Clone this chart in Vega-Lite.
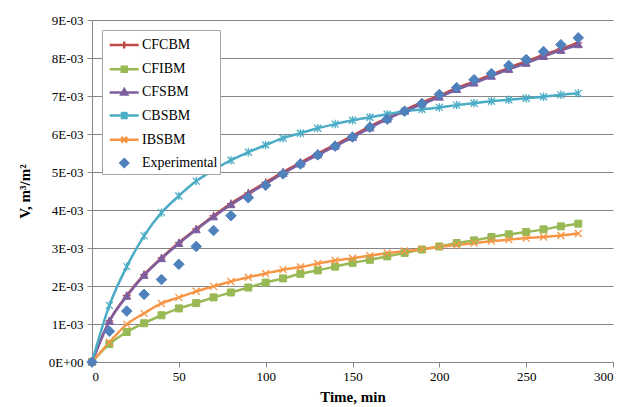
{
"$schema": "https://vega.github.io/schema/vega-lite/v6.json",
"width": 521, "height": 342,
"autosize": "none",
"padding": {"left": 92, "top": 20, "right": 11, "bottom": 45},
"background": "white",
"config": {"view": {"stroke": null}, "font": "Times New Roman",
  "axis": {"labelFont": "Times New Roman", "titleFont": "Times New Roman"},
  "legend": {"labelFont": "Times New Roman"}},
"data": {"values": [
{"t":0,"s":"CFCBM","v":0},{"t":10,"s":"CFCBM","v":0.00108},{"t":20,"s":"CFCBM","v":0.00175},{"t":30,"s":"CFCBM","v":0.0023},{"t":40,"s":"CFCBM","v":0.00274},{"t":50,"s":"CFCBM","v":0.00314},{"t":60,"s":"CFCBM","v":0.0035},{"t":70,"s":"CFCBM","v":0.00385},{"t":80,"s":"CFCBM","v":0.00417},{"t":90,"s":"CFCBM","v":0.00445},{"t":100,"s":"CFCBM","v":0.00473},{"t":110,"s":"CFCBM","v":0.005},{"t":120,"s":"CFCBM","v":0.00525},{"t":130,"s":"CFCBM","v":0.00549},{"t":140,"s":"CFCBM","v":0.00572},{"t":150,"s":"CFCBM","v":0.00595},{"t":160,"s":"CFCBM","v":0.0062},{"t":170,"s":"CFCBM","v":0.00642},{"t":180,"s":"CFCBM","v":0.00663},{"t":190,"s":"CFCBM","v":0.00683},{"t":200,"s":"CFCBM","v":0.00701},{"t":210,"s":"CFCBM","v":0.00721},{"t":220,"s":"CFCBM","v":0.00738},{"t":230,"s":"CFCBM","v":0.00756},{"t":240,"s":"CFCBM","v":0.00774},{"t":250,"s":"CFCBM","v":0.00791},{"t":260,"s":"CFCBM","v":0.00808},{"t":270,"s":"CFCBM","v":0.00824},{"t":280,"s":"CFCBM","v":0.0084},
{"t":0,"s":"CFIBM","v":0},{"t":10,"s":"CFIBM","v":0.00047},{"t":20,"s":"CFIBM","v":0.00079},{"t":30,"s":"CFIBM","v":0.00102},{"t":40,"s":"CFIBM","v":0.00123},{"t":50,"s":"CFIBM","v":0.00141},{"t":60,"s":"CFIBM","v":0.00155},{"t":70,"s":"CFIBM","v":0.0017},{"t":80,"s":"CFIBM","v":0.00183},{"t":90,"s":"CFIBM","v":0.00196},{"t":100,"s":"CFIBM","v":0.00209},{"t":110,"s":"CFIBM","v":0.0022},{"t":120,"s":"CFIBM","v":0.00232},{"t":130,"s":"CFIBM","v":0.00241},{"t":140,"s":"CFIBM","v":0.00251},{"t":150,"s":"CFIBM","v":0.00261},{"t":160,"s":"CFIBM","v":0.00269},{"t":170,"s":"CFIBM","v":0.00278},{"t":180,"s":"CFIBM","v":0.00287},{"t":190,"s":"CFIBM","v":0.00296},{"t":200,"s":"CFIBM","v":0.00304},{"t":210,"s":"CFIBM","v":0.00313},{"t":220,"s":"CFIBM","v":0.0032},{"t":230,"s":"CFIBM","v":0.00329},{"t":240,"s":"CFIBM","v":0.00336},{"t":250,"s":"CFIBM","v":0.00342},{"t":260,"s":"CFIBM","v":0.00349},{"t":270,"s":"CFIBM","v":0.00357},{"t":280,"s":"CFIBM","v":0.00364},
{"t":0,"s":"CFSBM","v":0},{"t":10,"s":"CFSBM","v":0.00107},{"t":20,"s":"CFSBM","v":0.00173},{"t":30,"s":"CFSBM","v":0.00228},{"t":40,"s":"CFSBM","v":0.00272},{"t":50,"s":"CFSBM","v":0.00312},{"t":60,"s":"CFSBM","v":0.00348},{"t":70,"s":"CFSBM","v":0.00382},{"t":80,"s":"CFSBM","v":0.00414},{"t":90,"s":"CFSBM","v":0.00442},{"t":100,"s":"CFSBM","v":0.00469},{"t":110,"s":"CFSBM","v":0.00496},{"t":120,"s":"CFSBM","v":0.00521},{"t":130,"s":"CFSBM","v":0.00545},{"t":140,"s":"CFSBM","v":0.00568},{"t":150,"s":"CFSBM","v":0.00591},{"t":160,"s":"CFSBM","v":0.00616},{"t":170,"s":"CFSBM","v":0.00639},{"t":180,"s":"CFSBM","v":0.0066},{"t":190,"s":"CFSBM","v":0.00679},{"t":200,"s":"CFSBM","v":0.00697},{"t":210,"s":"CFSBM","v":0.00717},{"t":220,"s":"CFSBM","v":0.00734},{"t":230,"s":"CFSBM","v":0.00752},{"t":240,"s":"CFSBM","v":0.0077},{"t":250,"s":"CFSBM","v":0.00786},{"t":260,"s":"CFSBM","v":0.00804},{"t":270,"s":"CFSBM","v":0.0082},{"t":280,"s":"CFSBM","v":0.00835},
{"t":0,"s":"CBSBM","v":0},{"t":10,"s":"CBSBM","v":0.00149},{"t":20,"s":"CBSBM","v":0.00251},{"t":30,"s":"CBSBM","v":0.00332},{"t":40,"s":"CBSBM","v":0.00393},{"t":50,"s":"CBSBM","v":0.00437},{"t":60,"s":"CBSBM","v":0.00476},{"t":70,"s":"CBSBM","v":0.00505},{"t":80,"s":"CBSBM","v":0.00531},{"t":90,"s":"CBSBM","v":0.00552},{"t":100,"s":"CBSBM","v":0.00571},{"t":110,"s":"CBSBM","v":0.00589},{"t":120,"s":"CBSBM","v":0.00602},{"t":130,"s":"CBSBM","v":0.00615},{"t":140,"s":"CBSBM","v":0.00626},{"t":150,"s":"CBSBM","v":0.00636},{"t":160,"s":"CBSBM","v":0.00644},{"t":170,"s":"CBSBM","v":0.00652},{"t":180,"s":"CBSBM","v":0.0066},{"t":190,"s":"CBSBM","v":0.00665},{"t":200,"s":"CBSBM","v":0.0067},{"t":210,"s":"CBSBM","v":0.00676},{"t":220,"s":"CBSBM","v":0.00681},{"t":230,"s":"CBSBM","v":0.00686},{"t":240,"s":"CBSBM","v":0.0069},{"t":250,"s":"CBSBM","v":0.00694},{"t":260,"s":"CBSBM","v":0.00698},{"t":270,"s":"CBSBM","v":0.00703},{"t":280,"s":"CBSBM","v":0.00707},
{"t":0,"s":"IBSBM","v":0},{"t":10,"s":"IBSBM","v":0.00052},{"t":20,"s":"IBSBM","v":0.00099},{"t":30,"s":"IBSBM","v":0.00128},{"t":40,"s":"IBSBM","v":0.00154},{"t":50,"s":"IBSBM","v":0.0017},{"t":60,"s":"IBSBM","v":0.00186},{"t":70,"s":"IBSBM","v":0.00199},{"t":80,"s":"IBSBM","v":0.00212},{"t":90,"s":"IBSBM","v":0.00223},{"t":100,"s":"IBSBM","v":0.00233},{"t":110,"s":"IBSBM","v":0.00243},{"t":120,"s":"IBSBM","v":0.0025},{"t":130,"s":"IBSBM","v":0.00259},{"t":140,"s":"IBSBM","v":0.00267},{"t":150,"s":"IBSBM","v":0.00273},{"t":160,"s":"IBSBM","v":0.0028},{"t":170,"s":"IBSBM","v":0.00287},{"t":180,"s":"IBSBM","v":0.00292},{"t":190,"s":"IBSBM","v":0.00297},{"t":200,"s":"IBSBM","v":0.00303},{"t":210,"s":"IBSBM","v":0.00308},{"t":220,"s":"IBSBM","v":0.00313},{"t":230,"s":"IBSBM","v":0.00318},{"t":240,"s":"IBSBM","v":0.00322},{"t":250,"s":"IBSBM","v":0.00326},{"t":260,"s":"IBSBM","v":0.00329},{"t":270,"s":"IBSBM","v":0.00333},{"t":280,"s":"IBSBM","v":0.00338},
{"t":0,"s":"Experimental","v":0},{"t":10,"s":"Experimental","v":0.00081},{"t":20,"s":"Experimental","v":0.00134},{"t":30,"s":"Experimental","v":0.00178},{"t":40,"s":"Experimental","v":0.00217},{"t":50,"s":"Experimental","v":0.00257},{"t":60,"s":"Experimental","v":0.00304},{"t":70,"s":"Experimental","v":0.00346},{"t":80,"s":"Experimental","v":0.00385},{"t":90,"s":"Experimental","v":0.00432},{"t":100,"s":"Experimental","v":0.00465},{"t":110,"s":"Experimental","v":0.00495},{"t":120,"s":"Experimental","v":0.00521},{"t":130,"s":"Experimental","v":0.00545},{"t":140,"s":"Experimental","v":0.00568},{"t":150,"s":"Experimental","v":0.00592},{"t":160,"s":"Experimental","v":0.00618},{"t":170,"s":"Experimental","v":0.00639},{"t":180,"s":"Experimental","v":0.0066},{"t":190,"s":"Experimental","v":0.0068},{"t":200,"s":"Experimental","v":0.00704},{"t":210,"s":"Experimental","v":0.00722},{"t":220,"s":"Experimental","v":0.00743},{"t":230,"s":"Experimental","v":0.00759},{"t":240,"s":"Experimental","v":0.0078},{"t":250,"s":"Experimental","v":0.00796},{"t":260,"s":"Experimental","v":0.00817},{"t":270,"s":"Experimental","v":0.00835},{"t":280,"s":"Experimental","v":0.00853}
]},
"encoding": {
  "x": {"field": "t", "type": "quantitative", "scale": {"domain": [0, 300], "nice": false},
    "axis": {"title": "Time, min", "values": [0,50,100,150,200,250,300], "grid": false, "tickSize": 5, "tickColor": "#868686", "domainColor": "#868686", "labelFont": "Times New Roman", "labelFontSize": 13, "labelColor": "#000000", "labelPadding": 3, "titleFont": "Times New Roman", "titleFontSize": 15, "titleFontWeight": "bold", "titleColor": "#000000", "titlePadding": 6}},
  "y": {"field": "v", "type": "quantitative", "scale": {"domain": [0, 0.009], "nice": false},
    "axis": {"title": "V, m³/m²", "values": [0,0.001,0.002,0.003,0.004,0.005,0.006,0.007,0.008,0.009], "labelExpr": "datum.value == 0 ? '0E+00' : format(datum.value*1000, '.0f') + 'E-03'", "grid": true, "gridColor": "#868686", "gridWidth": 1, "tickSize": 5, "tickColor": "#868686", "domainColor": "#868686", "labelFont": "Times New Roman", "labelFontSize": 13, "labelColor": "#000000", "labelPadding": 4, "titleFont": "Times New Roman", "titleFontSize": 15, "titleFontWeight": "bold", "titleColor": "#000000", "titlePadding": 16}}
},
"layer": [
  {
    "transform": [{"filter": "datum.s !== 'Experimental'"}],
    "mark": {"type": "line", "strokeWidth": 2.5, "interpolate": "monotone"},
    "encoding": {
      "color": {"field": "s", "type": "nominal",
        "scale": {"domain": ["CFCBM","CFIBM","CFSBM","CBSBM","IBSBM","Experimental"], "range": ["#BE4B48","#98B954","#7D5FA0","#4BACC6","#F79646","#4F81BD"]},
        "legend": {"title": null, "orient": "none", "legendX": 10, "legendY": 10, "fillColor": "white", "strokeColor": "#A6A6A6", "padding": 2, "symbolSize": 511, "labelFont": "Times New Roman", "labelFontSize": 14, "labelColor": "#000000", "labelOffset": 12, "rowPadding": 2.2,
          "encode": {"symbols": {"update": {
            "shape": {"signal": "datum.value === 'CFCBM' ? 'M-0.65,0L1.92,0M0.64,-0.3L0.64,0.3' : datum.value === 'CFIBM' ? 'M-0.65,0L1.92,0M0.42,-0.22L0.86,-0.22L0.86,0.22L0.42,0.22Z' : datum.value === 'CFSBM' ? 'M-0.65,0L1.92,0M0.64,-0.28L0.9,0.18L0.38,0.18Z' : datum.value === 'CBSBM' ? 'M-0.65,0L1.92,0M0.36,-0.28L0.92,0.28M0.36,0.28L0.92,-0.28M0.64,-0.33L0.64,0.33' : datum.value === 'IBSBM' ? 'M-0.65,0L1.92,0M0.38,-0.26L0.9,0.26M0.38,0.26L0.9,-0.26' : 'M0.64,-0.34L0.98,0L0.64,0.34L0.3,0Z'"},
            "stroke": {"signal": "scale('color', datum.value)"},
            "fill": {"signal": "scale('color', datum.value)"},
            "strokeWidth": {"value": 2.5},
            "opacity": {"value": 1}
          }}}
        }}
    }
  },
  {"transform": [{"filter": "datum.s === 'CFCBM'"}], "mark": {"type": "point", "size": 100, "strokeWidth": 1.3, "opacity": 1, "filled": false, "color": "#BE4B48", "shape": "M-0.8,0L0.8,0M0,-0.8L0,0.8"}},
  {"transform": [{"filter": "datum.s === 'CFIBM'"}], "mark": {"type": "point", "size": 100, "strokeWidth": 1, "opacity": 1, "fill": "#98B954", "stroke": "#98B954", "shape": "M-0.7,-0.7L0.7,-0.7L0.7,0.7L-0.7,0.7Z"}},
  {"transform": [{"filter": "datum.s === 'CFSBM'"}], "mark": {"type": "point", "size": 100, "strokeWidth": 1, "opacity": 1, "fill": "#7D5FA0", "stroke": "#7D5FA0", "shape": "M0,-0.85L0.8,0.6L-0.8,0.6Z"}},
  {"transform": [{"filter": "datum.s === 'CBSBM'"}], "mark": {"type": "point", "size": 100, "strokeWidth": 1.3, "opacity": 1, "filled": false, "color": "#4BACC6", "shape": "M-0.7,-0.7L0.7,0.7M-0.7,0.7L0.7,-0.7M0,-0.85L0,0.85"}},
  {"transform": [{"filter": "datum.s === 'IBSBM'"}], "mark": {"type": "point", "size": 100, "strokeWidth": 1.3, "opacity": 1, "filled": false, "color": "#F79646", "shape": "M-0.7,-0.7L0.7,0.7M-0.7,0.7L0.7,-0.7"}},
  {"transform": [{"filter": "datum.s === 'Experimental'"}], "mark": {"type": "point", "size": 100, "strokeWidth": 1, "opacity": 1, "fill": "#4F81BD", "stroke": "#4F81BD", "shape": "M0,-1.05L1.05,0L0,1.05L-1.05,0Z"}}
]
}
